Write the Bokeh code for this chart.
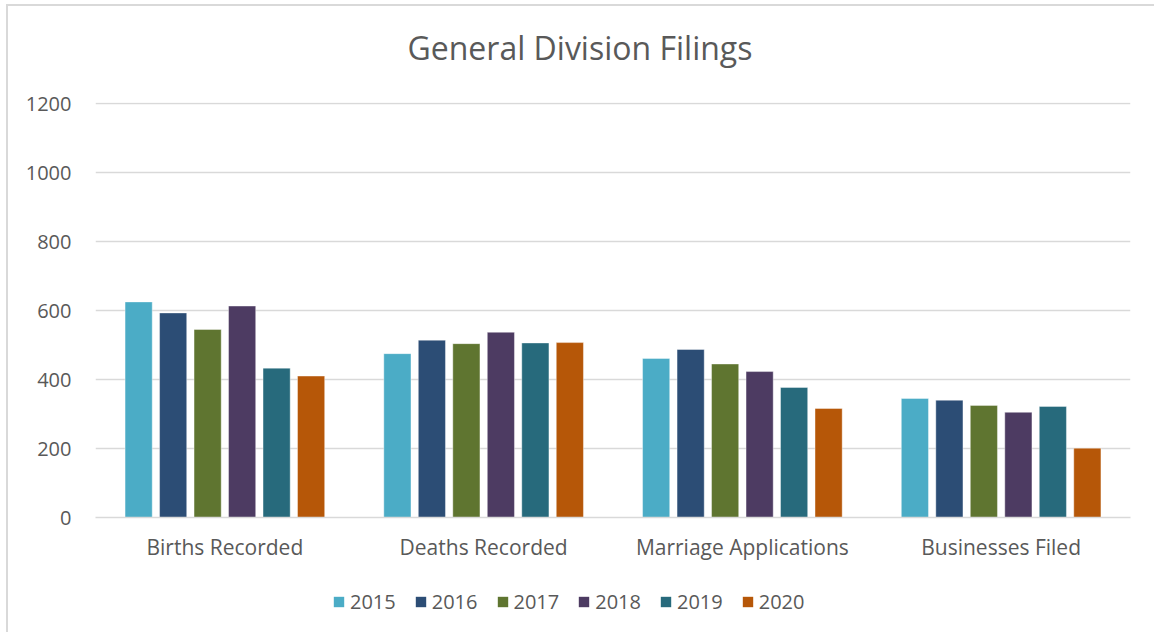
from bokeh.plotting import figure
from bokeh.layouts import column
from bokeh.models import ColumnDataSource, FactorRange, Range1d, Legend, LegendItem, Label, SingleIntervalTicker
from bokeh.transform import dodge
from bokeh.embed import file_html
from bokeh.resources import INLINE

categories = ["Births Recorded", "Deaths Recorded", "Marriage Applications", "Businesses Filed"]
years = ["2015", "2016", "2017", "2018", "2019", "2020"]
v2015 = [625, 475, 461, 345]
v2016 = [593, 514, 487, 340]
v2017 = [545, 504, 445, 325]
v2018 = [613, 537, 423, 305]
v2019 = [433, 506, 377, 322]
v2020 = [410, 507, 316, 201]
colors = ["#4BACC6", "#2C4D75", "#5F7530", "#4D3B62", "#276A7C", "#B65708"]
title_text = "General Division Filings"

series = [v2015, v2016, v2017, v2018, v2019, v2020]
data = {"cat": categories}
for y, s in zip(years, series):
    data["y" + y] = s
source = ColumnDataSource(data)

FONT = "Open Sans"
TXT = "#595959"
W = 1146
BL, BR = 87, 24

# header strip with title
hf = figure(width=W, height=76, output_backend="svg", toolbar_location=None,
            x_range=Range1d(0, W - BL - BR), y_range=Range1d(0, 76),
            min_border_left=BL, min_border_right=BR, min_border_top=0, min_border_bottom=0)
hf.axis.visible = False
hf.grid.grid_line_color = None
hf.outline_line_color = None
hf.add_layout(Label(x=312, y=35, text=title_text, text_font=FONT, text_font_size="32px",
                    text_color=TXT, text_align="left", text_baseline="middle"))

p = figure(x_range=FactorRange(*categories, range_padding=0), y_range=Range1d(0, 1203),
           width=W, height=493, output_backend="svg", toolbar_location=None,
           min_border_left=BL, min_border_right=BR, min_border_top=20, min_border_bottom=58)
p.outline_line_color = None

step = 0.1333
width = 0.105
for i, (y, c) in enumerate(zip(years, colors)):
    p.vbar(x=dodge("cat", (i - 2.5) * step, range=p.x_range), top="y" + y, width=width,
           source=source, fill_color=c, line_color="white", line_alpha=0.4, line_width=1)

p.yaxis.ticker = SingleIntervalTicker(interval=200)
p.yaxis.axis_line_color = None
p.yaxis.major_tick_line_color = None
p.yaxis.minor_tick_line_color = None
p.yaxis.major_label_text_font = FONT
p.yaxis.major_label_text_font_size = "20px"
p.yaxis.major_label_text_color = TXT
p.yaxis.major_label_standoff = 18

p.xaxis.axis_line_color = "#D9D9D9"
p.xaxis.axis_line_width = 1.5
p.xaxis.major_tick_line_color = None
p.xaxis.minor_tick_line_color = None
p.xaxis.major_label_text_font = FONT
p.xaxis.major_label_text_font_size = "21px"
p.xaxis.major_label_text_color = TXT
p.xaxis.major_label_standoff = 9

p.xgrid.grid_line_color = None
p.ygrid.grid_line_color = "#D9D9D9"
p.ygrid.grid_line_width = 1.5

# legend strip
lf = figure(width=W, height=57, output_backend="svg", toolbar_location=None,
            x_range=Range1d(0, 1), y_range=Range1d(0, 1),
            min_border_left=BL, min_border_right=BR, min_border_top=0, min_border_bottom=0)
lf.axis.visible = False
lf.grid.grid_line_color = None
lf.outline_line_color = None
items = []
for y, c in zip(years, colors):
    r = lf.vbar(x=[0.5], top=[0], bottom=[0], width=0, fill_color=c, line_color=None)
    items.append(LegendItem(label=y, renderers=[r]))
legend = Legend(items=items, orientation="horizontal", location=(237, 17),
                glyph_width=13, glyph_height=13, label_text_font=FONT, label_text_font_size="20px",
                label_text_color=TXT, spacing=18, label_standoff=5, padding=0, margin=0,
                border_line_color=None, background_fill_alpha=0)
lf.add_layout(legend, "center")

layout = column(hf, p, lf, spacing=0)
layout.styles = {"border-left": "2px solid #D9D9D9", "border-top": "2px solid #D9D9D9",
                 "margin-left": "6px", "margin-top": "4px"}

open("out.html", "w").write(file_html(layout, INLINE))
